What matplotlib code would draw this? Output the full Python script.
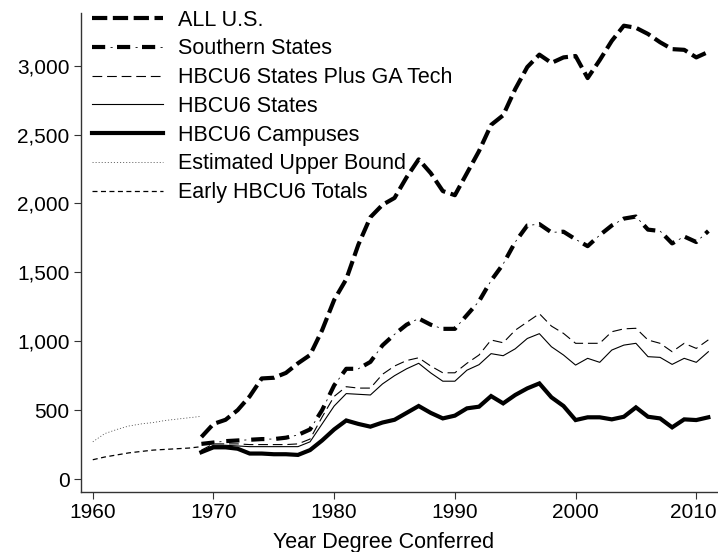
import matplotlib
matplotlib.use("Agg")
import matplotlib.pyplot as plt
from matplotlib.ticker import FuncFormatter
from matplotlib.legend_handler import HandlerTuple
import matplotlib.transforms as mtransforms

plt.rcParams['font.family'] = ['Liberation Sans', 'DejaVu Sans']
plt.rcParams['lines.scale_dashes'] = False

years = list(range(1969, 2012))
early_years = list(range(1960, 1970))

all_us = [305, 400, 430, 500, 600, 730, 735, 770, 840, 900,
          1080, 1300, 1450, 1700, 1900, 1990, 2040, 2190, 2320, 2220,
          2090, 2060, 2220, 2380, 2570, 2640, 2830, 2990, 3080, 3020,
          3060, 3070, 2910, 3040, 3180, 3290, 3275, 3230, 3170, 3120,
          3115, 3060, 3100]
southern = [255, 265, 275, 280, 285, 290, 290, 300, 320, 360,
            500, 680, 800, 800, 850, 970, 1050, 1120, 1165, 1120,
            1090, 1090, 1190, 1290, 1440, 1560, 1720, 1840, 1850, 1790,
            1795, 1740, 1690, 1770, 1840, 1890, 1905, 1810, 1800, 1710,
            1760, 1720, 1800]
hbcu_ga = [210, 255, 255, 255, 250, 250, 250, 250, 255, 290,
           450, 600, 670, 660, 660, 760, 820, 860, 880, 820,
           771, 771, 840, 900, 1009, 989, 1080, 1140, 1200, 1110,
           1057, 985, 985, 985, 1069, 1090, 1094, 1009, 985, 924,
           985, 948, 1010]
hbcu_states = [200, 245, 245, 240, 235, 235, 235, 235, 235, 270,
               400, 530, 620, 615, 610, 690, 750, 800, 840, 770,
               710, 710, 790, 830, 910, 895, 945, 1020, 1055, 960,
               900, 827, 876, 847, 936, 972, 985, 888, 883, 832,
               876, 847, 924]
hbcu_campuses = [195, 230, 230, 220, 185, 185, 180, 180, 175, 210,
                 280, 360, 425, 400, 380, 410, 430, 480, 530, 480,
                 440, 460, 513, 525, 602, 549, 610, 658, 694, 593,
                 530, 428, 448, 448, 433, 452, 520, 452, 440, 375,
                 433, 428, 448]
upper_bound = [270, 330, 360, 385, 400, 410, 425, 435, 445, 455]
early_totals = [140, 160, 175, 190, 200, 210, 215, 220, 225, 235]

labels = ["ALL U.S.", "Southern States", "HBCU6 States Plus GA Tech",
          "HBCU6 States", "HBCU6 Campuses", "Estimated Upper Bound",
          "Early HBCU6 Totals"]

fig = plt.figure(figsize=(7.18, 5.52), dpi=100)
ax = fig.add_axes([0.1124, 0.1081, 0.8876, 0.8683])

l_all, = ax.plot(years, all_us, color='black', lw=3.0,
                 linestyle=(0, (11, 4)))
l_s1, = ax.plot(years, southern, color='black', lw=3.0,
                linestyle=(0, (9.5, 8.5)))
l_s2, = ax.plot(years, southern, color='black', lw=0.6,
                linestyle=(5, (1.5, 16.5)))
l_ga, = ax.plot(years, hbcu_ga, color='black', lw=0.8,
                linestyle=(0, (7, 3.5)))
l_st, = ax.plot(years, hbcu_states, color='black', lw=0.8)
l_cp, = ax.plot(years, hbcu_campuses, color='black', lw=3.0,
                solid_joinstyle='miter')
l_ub, = ax.plot(early_years, upper_bound, color='#555555', lw=0.6,
                linestyle=(0, (0.8, 1.4)))
l_et, = ax.plot(early_years, early_totals, color='black', lw=0.9,
                linestyle=(0, (3.6, 2.5)))

ax.set_xlim(1959.0, 2011.8)
ax.set_ylim(-96.5, 3382)
ax.set_xticks([1960, 1970, 1980, 1990, 2000, 2010])
ax.set_yticks([0, 500, 1000, 1500, 2000, 2500, 3000])
ax.yaxis.set_major_formatter(FuncFormatter(lambda v, p: f"{int(v):,}"))
for s in ['top', 'right']:
    ax.spines[s].set_visible(False)
for s in ['left', 'bottom']:
    ax.spines[s].set_color('#333333')
    ax.spines[s].set_linewidth(1.0)
ax.tick_params(direction='out', length=5, width=0.8, color='#333333',
               labelsize=15, pad=3)
ax.set_xlabel("Year Degree Conferred", fontsize=15.5)
ax.xaxis.set_label_coords(0.476, -0.082)

# keep the last x tick label inside the canvas
fig.canvas.draw()
last = ax.get_xticklabels()[-1]
last.set_transform(last.get_transform() +
                   mtransforms.ScaledTranslation(-3 / 100, 0, fig.dpi_scale_trans))

leg = ax.legend([l_all, (l_s1, l_s2), l_ga, l_st, l_cp, l_ub, l_et], labels,
                handler_map={tuple: HandlerTuple(ndivide=1)},
                loc='upper left', bbox_to_anchor=(0.017, 1.007),
                frameon=False, fontsize=15.5, handlelength=3.3,
                handletextpad=0.7, labelspacing=0.36, borderpad=0,
                borderaxespad=0)

fig.savefig("out.png", dpi=100, facecolor='white')
